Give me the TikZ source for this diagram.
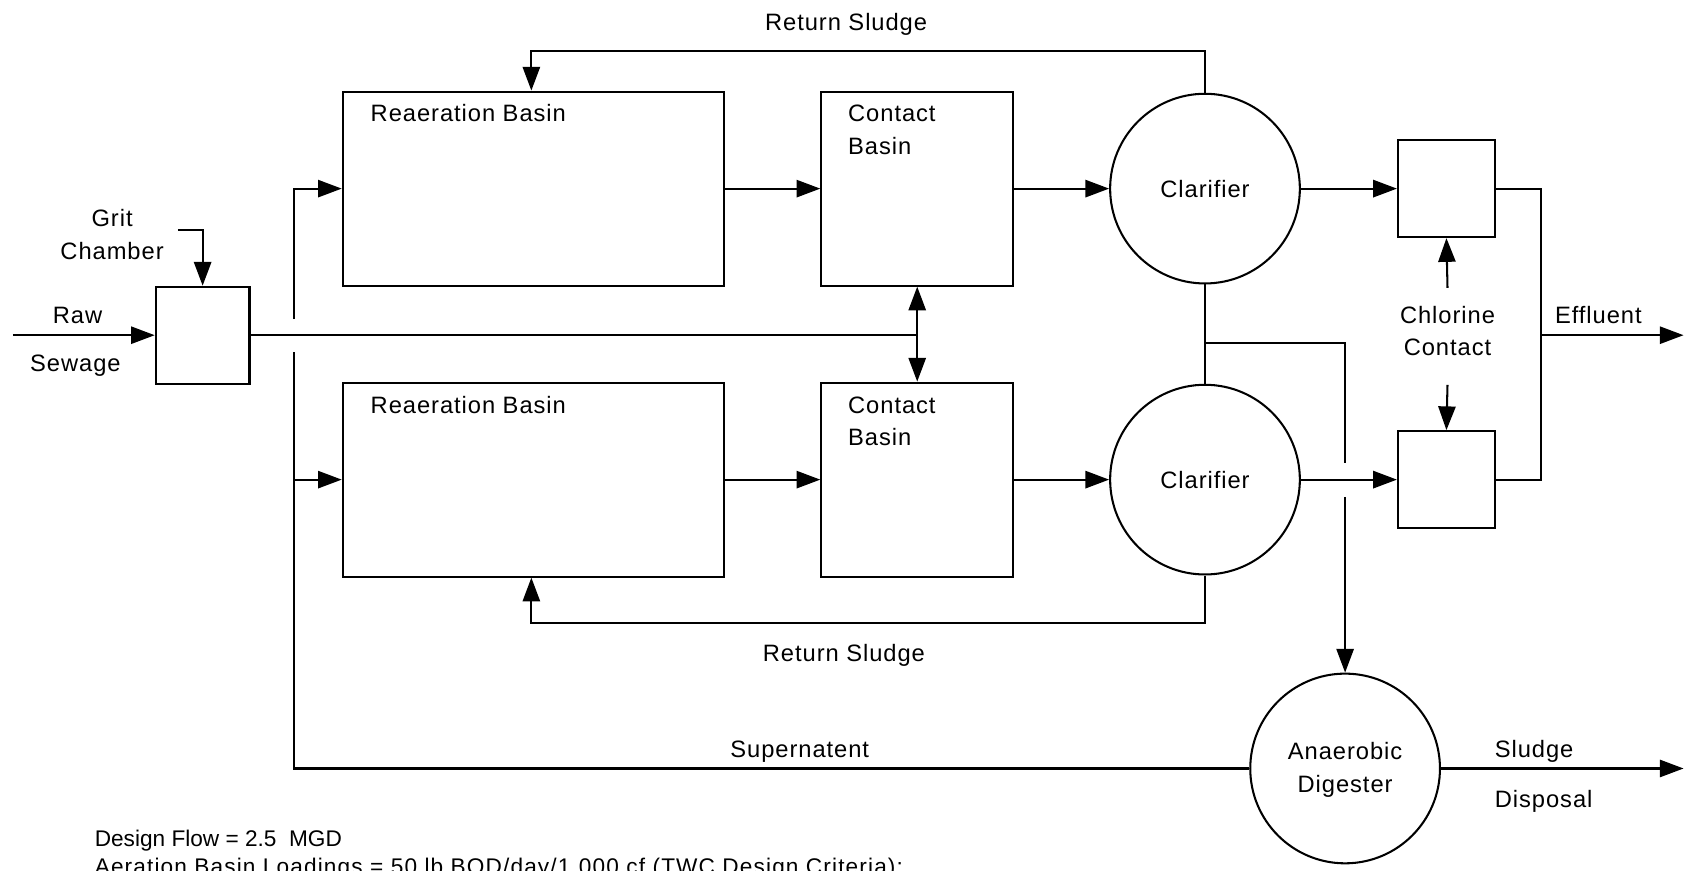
\documentclass[tikz,border=0pt]{standalone}
\usepackage{fontspec}
\setmainfont[LetterSpace=4]{Liberation Sans}
\newfontfamily\notefont{Liberation Sans}
\newfontfamily\notewide[LetterSpace=5]{Liberation Sans}
\usetikzlibrary{arrows.meta,calc}
\begin{document}
\begin{tikzpicture}[x=1pt,y=-1pt,
  line width=1.9pt,
  arr/.style={-{Triangle[length=22pt,width=16pt]}},
  darr/.style={{Triangle[length=22pt,width=16pt]}-{Triangle[length=22pt,width=16pt]}},
  tank/.style={draw, rectangle, inner sep=0pt, line width=1.9pt},
  clar/.style={draw, circle, minimum size=176pt, inner sep=0pt, line width=1.9pt},
  lbl/.style={font=\fontsize{22}{28}\selectfont, inner sep=0pt},
  note/.style={font=\notefont\fontsize{21}{24}\selectfont, inner sep=0pt, anchor=base west},
  notew/.style={font=\notewide\fontsize{21}{24}\selectfont, inner sep=0pt, anchor=base west},
]
\useasboundingbox (0,0) rectangle (1568,808);

% tanks
\node[tank, minimum width=87pt, minimum height=90pt] (grit) at (188,311) {};
\node[tank, minimum width=354pt, minimum height=180pt] (reaU) at (495,175) {};
\node[tank, minimum width=354pt, minimum height=180pt] (reaL) at (495,445) {};
\node[tank, minimum width=178pt, minimum height=180pt] (conU) at (851,175) {};
\node[tank, minimum width=178pt, minimum height=180pt] (conL) at (851,445) {};
\node[clar] (clU) at (1118,175) {};
\node[clar] (clL) at (1118,445) {};
\node[tank, minimum width=90pt, minimum height=90pt] (chU) at (1342,175) {};
\node[tank, minimum width=90pt, minimum height=90pt] (chL) at (1342,445) {};
\node[clar] (dig) at (1248,713) {};

% labels
\node[lbl, anchor=base] (tRSu) at (785,28) {Return Sludge};
\node[lbl, anchor=base] (tRSl) at (783,614) {Return Sludge};
\node[lbl, anchor=base west] (tReaU) at (343,113) {Reaeration Basin};
\node[lbl, anchor=base west] (tReaL) at (343,384) {Reaeration Basin};
\node[lbl, anchor=base west] (tConU1) at (786,113) {Contact};
\node[lbl, anchor=base west] (tConU2) at (786,143) {Basin};
\node[lbl, anchor=base west] (tConL1) at (786,384) {Contact};
\node[lbl, anchor=base west] (tConL2) at (786,413) {Basin};
\node[lbl, anchor=base] (tClU) at (1118,183) {Clarifier};
\node[lbl, anchor=base] (tClL) at (1118,453) {Clarifier};
\node[lbl, anchor=base] (tGrit) at (104,210) {Grit};
\node[lbl, anchor=base] (tCham) at (104,241) {Chamber};
\node[lbl, anchor=base] (tRaw) at (72,300) {Raw};
\node[lbl, anchor=base] (tSew) at (70,345) {Sewage};
\node[lbl, anchor=base] (tChl1) at (1343,300) {Chlorine};
\node[lbl, anchor=base] (tChl2) at (1343,330) {Contact};
\node[lbl, anchor=base] (tEff) at (1483,300) {Effluent};
\node[lbl, anchor=base] (tSup) at (742,703) {Supernatent};
\node[lbl, anchor=base] (tDig1) at (1248,705) {Anaerobic};
\node[lbl, anchor=base] (tDig2) at (1248,735) {Digester};
\node[lbl, anchor=base west] (tSl1) at (1386,703) {Sludge};
\node[lbl, anchor=base west] (tSl2) at (1386,749) {Disposal};
\node[note] (nDF) at (87,785) {Design Flow = 2.5\ \ MGD};
\node[notew] (nAB) at (87,811) {Aeration Basin Loadings = 50 lb BOD/day/1,000 cf (TWC Design Criteria):};

% coordinates
\coordinate (rawS) at (12,311);
\coordinate (gA) at (165,213);
\coordinate (v1) at (273,175);
\coordinate (v2) at (273,296);
\coordinate (v3) at (273,327);
\coordinate (v4) at (273,713);
\coordinate (vL) at (273,445);
\coordinate (ru1) at (1118,47);
\coordinate (ru2) at (493,47);
\coordinate (rl1) at (1118,578);
\coordinate (rl2) at (493,578);
\coordinate (j) at (1118,318);
\coordinate (k) at (1248,318);
\coordinate (kg1) at (1248,430);
\coordinate (kg2) at (1248,461);
\coordinate (ex) at (1430,311);
\coordinate (eEnd) at (1562,311);
\coordinate (sEnd) at (1562,713);
\coordinate (cla) at (1343,267);
\coordinate (clb) at (1343,357);

% connectors
\draw[arr] (rawS) -- (grit.west);
\draw[arr] (gA) -| (grit.north);
\draw (grit.east) -- (conU.south |- grit.east);
\draw[darr] (conU.south) -- (conL.north);
\draw[arr] (v2) -- (v1) -- (reaU.west);
\draw (dig.west) -- (v4) -- (v3);
\draw[arr] (vL) -- (reaL.west);
\draw[arr] (reaU.east) -- (conU.west);
\draw[arr] (reaL.east) -- (conL.west);
\draw[arr] (conU.east) -- (clU.west);
\draw[arr] (conL.east) -- (clL.west);
\draw[arr] (clU.east) -- (chU.west);
\draw[arr] (clL.east) -- (chL.west);
\draw[arr] (clU.north) -- (ru1) -- (ru2) -- (reaU.north -| ru2);
\draw[arr] (clL.south) -- (rl1) -- (rl2) -- (reaL.south -| rl2);
\draw (clU.south) -- (clL.north);
\draw (j) -- (k) -- (kg1);
\draw[arr] (kg2) -- (dig.north);
\draw (chU.east) -| (ex) |- (chL.east);
\draw[arr] (ex) -- (eEnd);
\draw[arr] (cla) -- (chU.south);
\draw[arr] (clb) -- (chL.north);
\draw[arr] (dig.east) -- (sEnd);
\end{tikzpicture}
\end{document}
